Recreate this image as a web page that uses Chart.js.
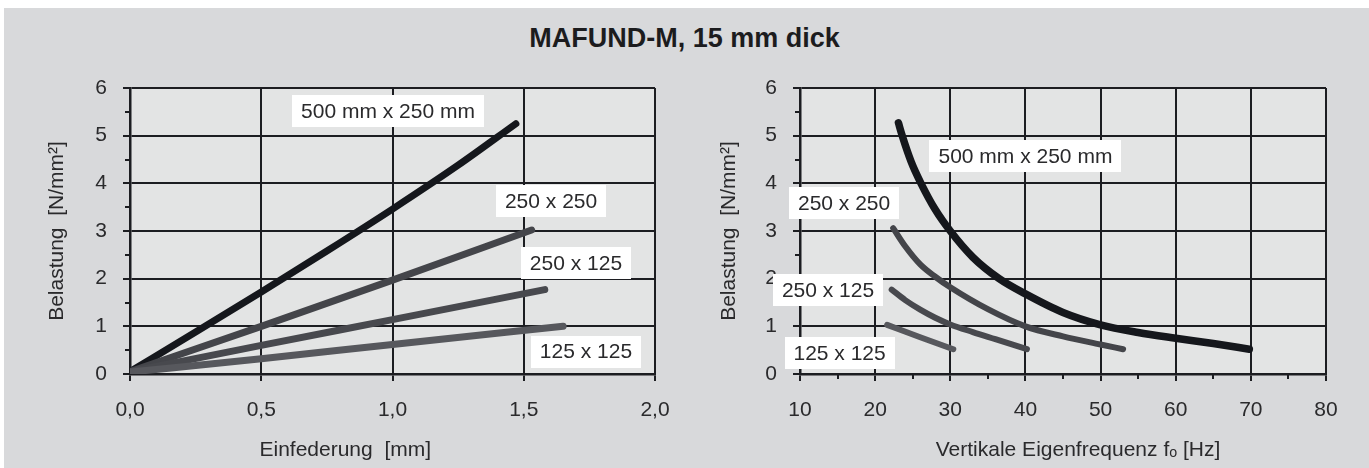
<!DOCTYPE html>
<html>
<head>
<meta charset="utf-8">
<script src="https://cdn.jsdelivr.net/npm/chart.js@4.4.1/dist/chart.umd.min.js"></script>
<style>
  html, body { margin: 0; padding: 0; background: #fff; }
  #sheet { position: absolute; left: 4px; top: 8px; width: 1365px; height: 460px; background: #d8d9db; }
  #title { position: absolute; left: 0; top: 22px; width: 1369px; text-align: center;
           font: bold 27px "Liberation Sans", Arial, sans-serif; line-height: 32px; color: #1c1c1e; }
  canvas { position: absolute; top: 0; }
  #left { left: 0; }
  #right { left: 690px; }
</style>
</head>
<body>
<div id="sheet"></div>
<div id="title">MAFUND-M, 15 mm dick</div>
<canvas id="left" width="690" height="468"></canvas>
<canvas id="right" width="679" height="468"></canvas>
<script>
// --- data ---
var seriesNames = ['500 mm x 250 mm', '250 x 250', '250 x 125', '125 x 125'];

// left: Einfederung [mm] -> Belastung [N/mm²]
var defl500 = [0, 0.25, 0.5, 0.75, 1.0, 1.25, 1.47];
var load500 = [0.05, 0.88, 1.72, 2.58, 3.46, 4.38, 5.25];
var defl250x250 = [0, 0.5, 1.0, 1.53];
var load250x250 = [0.05, 1.0, 1.97, 3.02];
var defl250x125 = [0, 0.5, 1.0, 1.58];
var load250x125 = [0.05, 0.6, 1.14, 1.77];
var defl125 = [0, 0.5, 1.0, 1.65];
var load125 = [0.04, 0.32, 0.62, 1.0];

// right: Vertikale Eigenfrequenz [Hz] -> Belastung [N/mm²]
var freq500 = [23.1, 23.6, 24.8, 26.1, 28, 30, 33, 36.5, 40, 45, 50, 55, 60, 65, 69.8];
var fload500 = [5.27, 5.0, 4.45, 4.0, 3.45, 3.0, 2.45, 2.0, 1.68, 1.29, 1.03, 0.87, 0.75, 0.64, 0.52];
var freq250x250 = [22.4, 24, 26, 28, 30, 35, 40, 45, 50, 53];
var fload250x250 = [3.06, 2.68, 2.3, 2.04, 1.82, 1.36, 1.0, 0.79, 0.62, 0.52];
var freq250x125 = [22.2, 24, 26, 28, 30, 33, 36, 40.2];
var fload250x125 = [1.77, 1.55, 1.35, 1.18, 1.04, 0.88, 0.73, 0.52];
var freq125 = [21.6, 26, 30.4];
var fload125 = [1.03, 0.77, 0.52];

// axis ticks
var loadTicks = [0, 1, 2, 3, 4, 5, 6];
var loadMinor = [0.5, 1.5, 2.5, 3.5, 4.5, 5.5];
var deflTicks = [0, 0.5, 1.0, 1.5, 2.0];
var freqTicks = [10, 20, 30, 40, 50, 60, 70, 80];
var freqMinor = [15, 25, 35, 45, 55, 65, 75];

var FONT = '"Liberation Sans", Arial, sans-serif';
var INK = '#1c1d21';
var TEXT = '#2a2a2c';
var lineColors = ['#15171c', '#44454a', '#48494e', '#57585d'];

function pts(xs, ys) {
	var out = [];
	for (var i = 0; i < xs.length; i++) out.push({x: xs[i], y: ys[i]});
	return out;
}
function tickList(arr) {
	return function(scale) { scale.ticks = arr.map(function(v) { return {value: v}; }); };
}

var sheetPlugin = {
	id: 'sheet',
	beforeDraw: function(chart, args, o) {
		var a = chart.chartArea, ctx = chart.ctx;
		ctx.save();
		ctx.fillStyle = o.plotColor;
		ctx.fillRect(a.left, a.top, a.right - a.left, a.bottom - a.top);
		ctx.restore();
	},
	afterDraw: function(chart, args, o) {
		var ctx = chart.ctx, a = chart.chartArea;
		var sx = chart.scales.x, sy = chart.scales.y;
		ctx.save();
		// minor ticks
		ctx.strokeStyle = INK;
		ctx.lineWidth = 2;
		(o.minorX || []).forEach(function(v) {
			var px = Math.round(sx.getPixelForValue(v));
			ctx.beginPath(); ctx.moveTo(px, a.bottom); ctx.lineTo(px, a.bottom + o.minorLen); ctx.stroke();
		});
		(o.minorY || []).forEach(function(v) {
			var py = Math.round(sy.getPixelForValue(v));
			ctx.beginPath(); ctx.moveTo(a.left, py); ctx.lineTo(a.left - o.minorLen, py); ctx.stroke();
		});
		// x caption
		ctx.fillStyle = TEXT;
		ctx.font = '21px ' + FONT;
		ctx.textAlign = 'center';
		ctx.textBaseline = 'middle';
		ctx.fillText(o.caption, sx.getPixelForValue(o.captionAt), o.captionY);
		// series tags
		o.tags.forEach(function(t, i) {
			var cx = sx.getPixelForValue(t[0]), cy = sy.getPixelForValue(t[1]);
			var w = Math.round(ctx.measureText(seriesNames[i]).width + 2 * o.tagPad), h = o.tagHeight;
			ctx.fillStyle = '#ffffff';
			ctx.fillRect(Math.round(cx - w / 2), Math.round(cy - h / 2), w, h);
			ctx.fillStyle = TEXT;
			ctx.fillText(seriesNames[i], cx, cy + 1);
		});
		ctx.restore();
	}
};

function makeDatasets(xsList, ysList, widths) {
	var ds = [];
	for (var i = 0; i < xsList.length; i++) {
		ds.push({
			label: seriesNames[i],
			data: pts(xsList[i], ysList[i]),
			showLine: true,
			borderColor: lineColors[i],
			backgroundColor: lineColors[i],
			borderWidth: widths[i],
			borderCapStyle: 'round',
			borderJoinStyle: 'round',
			cubicInterpolationMode: 'monotone',
			pointRadius: 0,
			order: 4 - i
		});
	}
	return ds;
}

function makeConfig(opt) {
	return {
		type: 'scatter',
		data: {datasets: makeDatasets(opt.xs, opt.ys, opt.widths)},
		options: {
			responsive: false,
			animation: false,
			events: [],
			layout: {padding: {left: 0, top: 88, right: opt.padRight, bottom: 0}},
			plugins: {
				legend: {display: false},
				tooltip: {enabled: false},
				sheet: {
					plotColor: '#e3e4e4',
					minorX: opt.minorX, minorY: loadMinor, minorLen: 5,
					caption: opt.caption, captionAt: opt.captionAt, captionY: 450,
					tags: opt.tags, tagPad: 9, tagHeight: 32
				}
			},
			scales: {
				x: {
					type: 'linear',
					min: opt.xMin, max: opt.xMax,
					afterBuildTicks: tickList(opt.xTicks),
					afterFit: function(s) { s.height = 94; },
					border: {display: true, color: INK, width: 2.5},
					grid: {color: INK, lineWidth: 2, tickLength: 7, tickColor: INK, tickWidth: 2},
					ticks: {
						autoSkip: false, maxRotation: 0, padding: 17, color: TEXT,
						font: {family: FONT, size: 21},
						callback: opt.xFormat
					}
				},
				y: {
					type: 'linear',
					min: 0, max: 6,
					afterBuildTicks: tickList(loadTicks),
					afterFit: function(s) { s.width = opt.yWidth; },
					border: {display: true, color: INK, width: 2.5},
					grid: {color: INK, lineWidth: 2, tickLength: 7, tickColor: INK, tickWidth: 2},
					ticks: {
						autoSkip: false, padding: 16, color: TEXT,
						font: {family: FONT, size: 21}
					},
					title: {
						display: true, text: 'Belastung  [N/mm²]', color: TEXT,
						font: {family: FONT, size: 21},
						padding: {top: opt.yTitlePad, bottom: 0}
					}
				}
			}
		},
		plugins: [sheetPlugin]
	};
}

new Chart(document.getElementById('left').getContext('2d'), makeConfig({
	xs: [defl500, defl250x250, defl250x125, defl125],
	ys: [load500, load250x250, load250x125, load125],
	widths: [7, 7, 7, 7],
	xMin: 0, xMax: 2, xTicks: deflTicks, minorX: [],
	xFormat: function(v) { return v.toFixed(1).replace('.', ','); },
	padRight: 35, yWidth: 130, yTitlePad: 45,
	caption: 'Einfederung  [mm]', captionAt: 0.82,
	tags: [[0.983, 5.51], [1.604, 3.62], [1.699, 2.33], [1.737, 0.47]]
}));

new Chart(document.getElementById('right').getContext('2d'), makeConfig({
	xs: [freq500, freq250x250, freq250x125, freq125],
	ys: [fload500, fload250x250, fload250x125, fload125],
	widths: [7.5, 6, 6, 6],
	xMin: 10, xMax: 80, xTicks: freqTicks, minorX: freqMinor,
	xFormat: function(v) { return String(v); },
	padRight: 43, yWidth: 110, yTitlePad: 27,
	caption: 'Vertikale Eigenfrequenz fₒ [Hz]', captionAt: 47,
	tags: [[40, 4.57], [15.87, 3.58], [13.73, 1.76], [15.27, 0.44]]
}));
</script>
</body>
</html>
